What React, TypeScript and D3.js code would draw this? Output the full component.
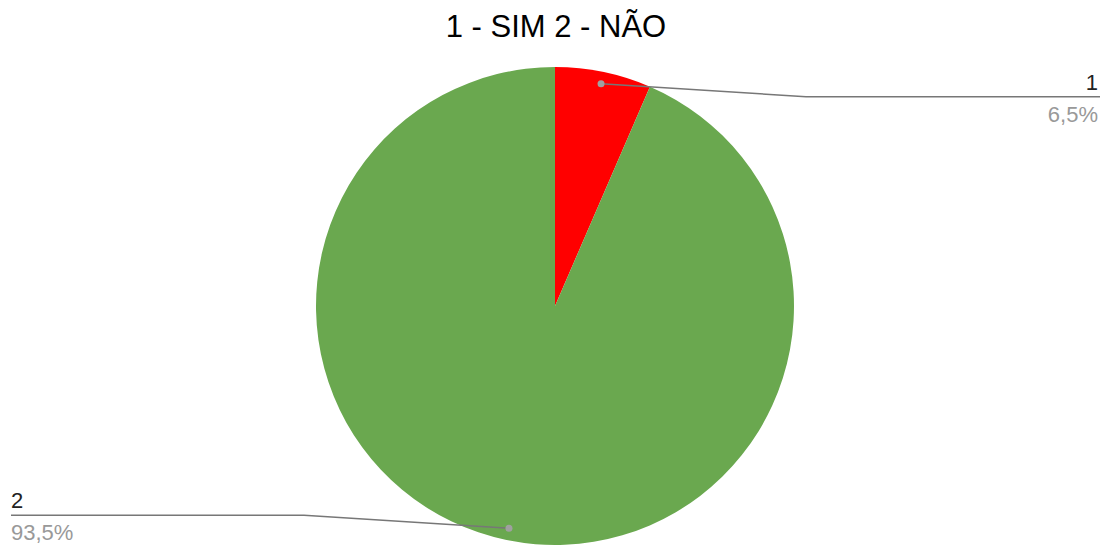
import React, { useEffect, useRef } from 'react';
import * as d3 from 'd3';

const categories = ['1', '2'];
const values = [6.5, 93.5];
const valueLabels = ['6,5%', '93,5%'];
const colors = ['#ff0000', '#6aa84f'];
const title = '1 - SIM 2 - NÃO';

interface Slice {
  name: string;
  value: number;
  label: string;
  color: string;
}

const data: Slice[] = categories.map((c, i) => ({
  name: c,
  value: values[i],
  label: valueLabels[i],
  color: colors[i],
}));

const WIDTH = 1102;
const HEIGHT = 546;

const App: React.FC = () => {
  const svgRef = useRef<SVGSVGElement>(null);

  useEffect(() => {
    if (!svgRef.current) return;

    d3.select(svgRef.current).selectAll('*').remove();

    const svg = d3
      .select(svgRef.current)
      .attr('width', WIDTH)
      .attr('height', HEIGHT)
      .style('font-family', 'Arial, "Liberation Sans", sans-serif');

    svg.append('rect').attr('width', WIDTH).attr('height', HEIGHT).attr('fill', '#ffffff');

    // Title
    svg
      .append('text')
      .attr('x', 556)
      .attr('y', 37)
      .attr('text-anchor', 'middle')
      .attr('font-size', '31px')
      .attr('fill', '#000000')
      .text(title);

    const cx = 555;
    const cy = 306;
    const radius = 239;

    const g = svg.append('g').attr('transform', `translate(${cx}, ${cy})`);

    const pie = d3.pie<Slice>().sort(null).value(d => d.value);
    const arc = d3.arc<d3.PieArcDatum<Slice>>().innerRadius(0).outerRadius(radius);
    const dotArc = d3.arc<d3.PieArcDatum<Slice>>()
      .innerRadius(radius * 0.95)
      .outerRadius(radius * 0.95);

    const arcs = pie(data);

    g.selectAll('path.slice')
      .data(arcs)
      .enter()
      .append('path')
      .attr('class', 'slice')
      .attr('d', arc)
      .attr('fill', d => d.data.color);

    // Leader lines + labels
    const leftEdge = 11;
    const rightEdge = 1100;
    const elbowDx = 251;
    const lineOffset = 13;

    arcs.forEach(d => {
      const [px, py] = dotArc.centroid(d);
      const right = px >= 0;
      const lineY = py < 0 ? py + lineOffset : py - lineOffset;
      const elbowX = right ? elbowDx : -elbowDx;
      const endX = right ? rightEdge - cx : leftEdge - cx;

      g.append('path')
        .attr('d', `M${px},${py}L${elbowX},${lineY}L${endX},${lineY}`)
        .attr('fill', 'none')
        .attr('stroke', '#777777')
        .attr('stroke-width', 1.5);

      g.append('circle')
        .attr('cx', px)
        .attr('cy', py)
        .attr('r', 3.5)
        .attr('fill', '#a0a0a0');

      const anchor = right ? 'end' : 'start';
      const tx = right ? endX - 2 : endX;

      g.append('text')
        .attr('x', tx)
        .attr('y', lineY - 7)
        .attr('text-anchor', anchor)
        .attr('font-size', '22px')
        .attr('fill', '#222222')
        .text(d.data.name);

      g.append('text')
        .attr('x', tx)
        .attr('y', lineY + 25)
        .attr('text-anchor', anchor)
        .attr('font-size', '22px')
        .attr('fill', '#999999')
        .text(d.data.label);
    });
  }, []);

  return (
    <div style={{ position: 'absolute', left: 0, top: 0 }}>
      <svg ref={svgRef} style={{ display: 'block' }} />
    </div>
  );
};

export default App;
